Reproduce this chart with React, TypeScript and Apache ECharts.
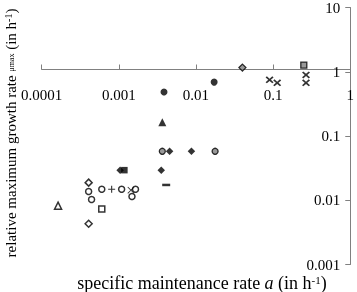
import React, { useEffect, useRef } from 'react';
import * as echarts from 'echarts';

const xTickLabels = ['0.0001', '0.001', '0.01', '0.1', '1'];
const yTickLabels = ['0.001', '0.01', '0.1', '1', '10'];

const blackCircles = [[0.0172, 0.69], [0.00385, 0.484]];
const graySquares = [[0.25, 1.27]];
const grayDiamonds = [[0.04, 1.16]];
const boldCrosses = [[0.09, 0.748], [0.113, 0.673], [0.267, 0.893], [0.267, 0.673]];
const blackTriangles = [[0.00366, 0.163]];
const grayCircles = [[0.00366, 0.0578], [0.0177, 0.0578]];
const blackDiamonds = [[0.00455, 0.0578], [0.00873, 0.0578], [0.00355, 0.0294], [0.00104, 0.0294]];
const blackSquares = [[0.000097, 0.0294], [0.00118, 0.0294]];
const dashes = [[0.00411, 0.0173]];
const openTriangles = [[0.000163, 0.00823]];
const openDiamonds = [[0.000406, 0.0188], [0.000406, 0.00431]];
const openCircles = [[0.000406, 0.01365], [0.000443, 0.01028], [0.000601, 0.01486], [0.001087, 0.01486], [0.001644, 0.01486], [0.00148, 0.01143]];
const pluses = [[0.000807, 0.01486]];
const thinCrosses = [[0.001435, 0.01435]];
const openSquares = [[0.000601, 0.00733]];

const FONT = 'Liberation Serif';
const X_BOLD = 'path://M0,1.6L1.6,0L5,3.4L8.4,0L10,1.6L6.6,5L10,8.4L8.4,10L5,6.6L1.6,10L0,8.4L3.4,5Z';
const X_THIN = 'path://M0,0.9L0.9,0L5,4.1L9.1,0L10,0.9L5.9,5L10,9.1L9.1,10L5,5.9L0.9,10L0,9.1L4.1,5Z';
const PLUS = 'path://M4.2,0H5.8V4.2H10V5.8H5.8V10H4.2V5.8H0V4.2H4.2Z';

const open = { color: '#ffffff', borderColor: '#000000', borderWidth: 1.5 };
const black = { color: '#000000' };
const gray = { color: '#808080', borderColor: '#000000', borderWidth: 1.3 };

function sc(data: number[][], symbol: string, size: any, itemStyle: any) {
  return { type: 'scatter', data, symbol, symbolSize: size, itemStyle };
}

function fmt(labels: string[], base: number) {
  return (v: number) => {
    const i = Math.round(Math.log10(v)) - base;
    return labels[i] ?? '';
  };
}

export default function App() {
  const ref = useRef<HTMLDivElement>(null);
  useEffect(() => {
    const chart = echarts.init(ref.current!, null, { renderer: 'svg' });
    chart.setOption({
      animation: false,
      grid: { left: 41.7, right: 4, top: 4.5, bottom: 27.5 },
      xAxis: {
        type: 'log',
        logBase: 10,
        min: 0.0001,
        max: 1,
        position: 'bottom',
        offset: -195,
        splitLine: { show: false },
        axisLine: { lineStyle: { color: '#808080', width: 1 } },
        axisTick: { inside: true, length: 5, lineStyle: { color: '#808080' } },
        minorTick: { show: false },
        axisLabel: { margin: 18, fontFamily: FONT, fontSize: 15, color: '#000', formatter: fmt(xTickLabels, -4) },
      },
      yAxis: {
        type: 'log',
        logBase: 10,
        min: 0.001,
        max: 10,
        position: 'right',
        splitLine: { show: false },
        axisLine: { lineStyle: { color: '#808080', width: 1 } },
        axisTick: { inside: true, length: 5, lineStyle: { color: '#808080' } },
        axisLabel: { inside: true, margin: 10, fontFamily: FONT, fontSize: 15, color: '#000', formatter: fmt(yTickLabels, -3) },
      },
      graphic: [
        {
          type: 'text',
          x: 202,
          y: 283,
          style: {
            text: '{t|specific maintenance rate }{i|a}{t| (in h}{s|-1}{t|)}',
            textAlign: 'center',
            textVerticalAlign: 'middle',
            rich: {
              t: { fontFamily: FONT, fontSize: 18, fill: '#000' },
              i: { fontFamily: FONT, fontSize: 18, fontStyle: 'italic', fill: '#000' },
              s: { fontFamily: FONT, fontSize: 11, fill: '#000', verticalAlign: 'top' },
            },
          },
        },
        {
          type: 'text',
          x: 11,
          y: 133,
          rotation: Math.PI / 2,
          style: {
            text: '{t|relative maximum growth rate }{m|μmax}{t| (in h}{s|-1}{t|)}',
            textAlign: 'center',
            textVerticalAlign: 'middle',
            rich: {
              t: { fontFamily: FONT, fontSize: 15, fill: '#000' },
              m: { fontFamily: FONT, fontSize: 8, fill: '#000' },
              s: { fontFamily: FONT, fontSize: 10, fill: '#000', verticalAlign: 'top' },
            },
          },
        },
      ],
      series: [
        sc(openCircles, 'circle', 6, open),
        sc(openDiamonds, 'diamond', 7, open),
        sc(openSquares, 'rect', 6, open),
        sc(openTriangles, 'triangle', 7, open),
        sc(pluses, PLUS, 7, black),
        sc(thinCrosses, X_THIN, 7, black),
        sc(dashes, 'rect', [8, 2.5], black),
        sc(blackSquares, 'rect', 6.5, black),
        sc(blackDiamonds, 'diamond', 7.5, black),
        sc(blackTriangles, 'triangle', 8, black),
        sc(blackCircles, 'circle', 7, black),
        sc(grayCircles, 'circle', 6, gray),
        sc(grayDiamonds, 'diamond', 7, gray),
        sc(graySquares, 'rect', 6, gray),
        sc(boldCrosses, X_BOLD, [8, 7], black),
      ],
    });
    return () => chart.dispose();
  }, []);
  return <div ref={ref} style={{ position: 'fixed', left: 0, top: 0, width: 357, height: 292 }} />;
}
